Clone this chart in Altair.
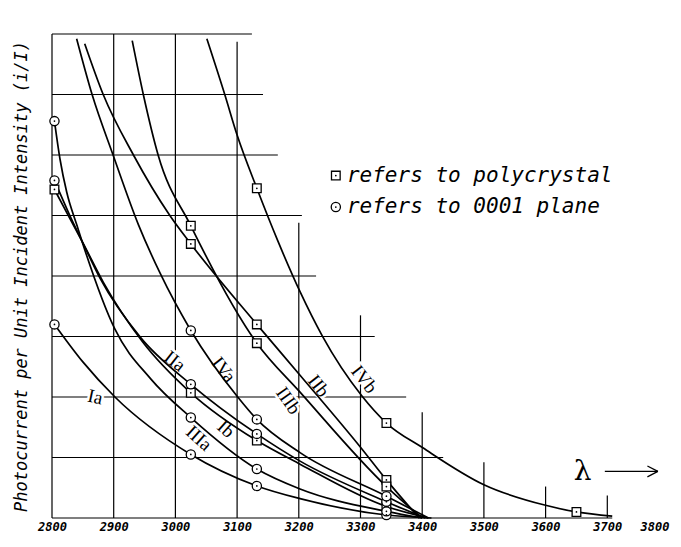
import altair as alt
import pandas as pd

# ---------------- data ----------------
X_TICKS = [2800, 2900, 3000, 3100, 3200, 3300, 3400, 3500, 3600, 3700, 3800]

# hand-drawn staircase grid (data units)
H_LEVELS = [0, 1, 2, 3, 4, 5, 6, 7, 8]
H_END = [3708, 3434, 3374, 3323, 3228, 3205, 3166, 3142, 3124]
V_LAM = [2800, 2900, 3000, 3100, 3200, 3300, 3400, 3500, 3600, 3700]
V_TOP = [8, 8, 8, 7.87, 4.88, 3.35, 1.75, 0.92, 0.52, 0.37]

# wavelengths where measured points are marked
MARKER_LAMS = [2804, 3025, 3132, 3342, 3650]

IA_LAM = [2804, 2850, 2902, 3025, 3132, 3202, 3342, 3415]
IA_VAL = [3.20, 2.58, 2.00, 1.05, 0.53, 0.32, 0.05, 0.00]

IIA_LAM = [2804, 2828, 2849, 2878, 2943, 3025, 3132, 3202, 3342, 3405]
IIA_VAL = [5.58, 5.02, 4.57, 3.96, 2.99, 2.21, 1.39, 0.94, 0.27, 0.00]

IIIA_LAM = [2804, 2813, 2824, 2840, 2850, 2902, 2960, 3025, 3132, 3202, 3342, 3400]
IIIA_VAL = [6.56, 5.93, 5.38, 4.85, 4.53, 3.12, 2.30, 1.66, 0.81, 0.48, 0.11, 0.00]

IVA_LAM = [2840, 2865, 2899, 2940, 2975, 3025, 3101, 3132, 3202, 3342, 3410]
IVA_VAL = [7.92, 7.00, 6.00, 4.85, 4.05, 3.10, 2.00, 1.63, 1.08, 0.36, 0.00]

IB_LAM = [2804, 2852, 2883, 2947, 3025, 3132, 3202, 3342, 3410]
IB_VAL = [5.43, 4.51, 3.90, 2.91, 2.07, 1.28, 0.89, 0.19, 0.00]

IIB_LAM = [2853, 2883, 2932, 2991, 3025, 3132, 3202, 3300, 3342, 3395]
IIB_VAL = [7.84, 7.00, 6.00, 5.00, 4.53, 3.20, 2.36, 1.17, 0.63, 0.00]

IIIB_LAM = [2930, 2948, 2972, 3025, 3132, 3202, 3342, 3400]
IIIB_VAL = [7.89, 7.00, 6.00, 4.83, 2.89, 2.08, 0.52, 0.00]

IVB_LAM = [3051, 3080, 3100, 3132, 3166, 3202, 3238, 3302, 3342, 3401, 3500, 3600, 3650, 3708]
IVB_VAL = [7.92, 7.00, 6.33, 5.45, 4.58, 3.74, 3.01, 2.02, 1.57, 1.16, 0.55, 0.21, 0.10, 0.03]

CURVE_NAMES = ["Ia", "IIa", "IIIa", "IVa", "Ib", "IIb", "IIIb", "IVb"]
CURVE_LAMS = [IA_LAM, IIA_LAM, IIIA_LAM, IVA_LAM, IB_LAM, IIB_LAM, IIIB_LAM, IVB_LAM]
CURVE_VALS = [IA_VAL, IIA_VAL, IIIA_VAL, IVA_VAL, IB_VAL, IIB_VAL, IIIB_VAL, IVB_VAL]

LABEL_LAM = [2870, 2999, 3038, 3078, 3082, 3232, 3183, 3306]
LABEL_VAL = [2.00, 2.59, 1.32, 2.45, 1.47, 2.18, 1.94, 2.29]
LABEL_ANGLE = [12, 38, 42, 52, 42, 52, 55, 52]

LEGEND_TEXT = ["refers to polycrystal", "refers to 0001 plane"]
LEGEND_SHAPE = ["square", "circle"]
LEGEND_VAL = [5.66, 5.14]
LEGEND_MARK_LAM = 3260
LEGEND_TEXT_LAM = 3278

Y_TITLE = "Photocurrent per Unit Incident Intensity (i/I)"

# ---------------- tables ----------------
rows = []
for name, lams, vals in zip(CURVE_NAMES, CURVE_LAMS, CURVE_VALS):
    for i, (l, v) in enumerate(zip(lams, vals)):
        rows.append({"curve": name, "lam": l, "val": v, "idx": i,
                     "shape": "circle" if name.endswith("a") else "square",
                     "marked": l in MARKER_LAMS})
curves = pd.DataFrame(rows)
markers = curves[curves["marked"]].copy()
legend_marks = pd.DataFrame({"lam": [LEGEND_MARK_LAM] * 2, "val": LEGEND_VAL, "shape": LEGEND_SHAPE})
markers = pd.concat([markers[["lam", "val", "shape"]], legend_marks], ignore_index=True)

hgrid = pd.DataFrame({"lam": [2800] * len(H_LEVELS), "lam2": H_END, "val": H_LEVELS})
vgrid = pd.DataFrame({"lam": V_LAM, "val": [0] * len(V_LAM), "val2": V_TOP})
labels = pd.DataFrame({"text": CURVE_NAMES, "lam": LABEL_LAM, "val": LABEL_VAL, "angle": LABEL_ANGLE})
legend = pd.DataFrame({"text": LEGEND_TEXT, "lam": [LEGEND_TEXT_LAM] * 2, "val": LEGEND_VAL})
lam_label = pd.DataFrame({"text": ["λ"], "lam": [3660], "val": [0.76]})
arrow = pd.DataFrame({"lam": [3696, 3765, 3765], "lam2": [3782, 3782, 3782],
                      "val": [0.77, 0.86, 0.68], "val2": [0.77, 0.77, 0.77]})

MONO = "DejaVu Sans Mono"

X = alt.X("lam:Q", scale=alt.Scale(domain=[2800, 3800], nice=False, zero=False),
          axis=alt.Axis(values=X_TICKS, format="d", title=None, grid=False, domain=False,
                        ticks=False, labelFont=MONO, labelFontSize=12, labelFontStyle="italic",
                        labelFontWeight="bold", labelColor="black", labelPadding=3,
                        labelFlush=False, labelOverlap=False,
                        labelAlign=alt.condition("datum.value >= 3800", alt.value("right"), alt.value("center"))))
Y = alt.Y("val:Q", scale=alt.Scale(domain=[0, 8], nice=False, zero=False),
          axis=alt.Axis(title=Y_TITLE, labels=False, ticks=False, domain=False, grid=False,
                        titleFont=MONO, titleFontSize=17, titleFontStyle="italic",
                        titleFontWeight="normal", titleColor="black", titlePadding=22))

hg = alt.Chart(hgrid).mark_rule(color="black", strokeWidth=1.2).encode(x=X, x2="lam2:Q", y=Y)
vg = alt.Chart(vgrid).mark_rule(color="black", strokeWidth=1.2).encode(x=X, y=Y, y2="val2:Q")

halo = alt.Chart(labels).mark_text(font="Liberation Serif", fontSize=19, stroke="white",
                                   strokeWidth=5, color="white").encode(
    x=X, y=Y, text="text:N", angle=alt.Angle("angle:Q", scale=None))

lines = alt.Chart(curves).mark_line(interpolate="monotone", color="black", strokeWidth=1.7).encode(
    x=X, y=Y, detail="curve:N", order="idx:Q")

lab = alt.Chart(labels).mark_text(font="Liberation Serif", fontSize=19, color="black").encode(
    x=X, y=Y, text="text:N", angle=alt.Angle("angle:Q", scale=None))

sq = alt.Chart(markers).transform_filter(alt.datum.shape == "square").mark_point(
    shape="square", filled=True, fill="white", stroke="black", strokeWidth=1.3, size=75, opacity=1
).encode(x=X, y=Y)
ci = alt.Chart(markers).transform_filter(alt.datum.shape == "circle").mark_point(
    shape="circle", filled=True, fill="white", stroke="black", strokeWidth=1.3, size=85, opacity=1
).encode(x=X, y=Y)
dots = alt.Chart(markers).mark_point(shape="circle", filled=True, color="black", size=3, opacity=1).encode(x=X, y=Y)

leg = alt.Chart(legend).mark_text(font=MONO, fontSize=21, fontStyle="italic", align="left",
                                  baseline="middle", color="black").encode(x=X, y=Y, text="text:N")
lam_t = alt.Chart(lam_label).mark_text(font="DejaVu Serif", fontSize=28, align="center",
                                       baseline="middle", color="black").encode(x=X, y=Y, text="text:N")
arr = alt.Chart(arrow).mark_rule(color="black", strokeWidth=1.3).encode(x=X, x2="lam2:Q", y=Y, y2="val2:Q")

chart = alt.layer(hg, vg, halo, lines, lab, sq, ci, dots, leg, lam_t, arr).properties(
    width=617, height=484,
    autosize=alt.AutoSizeParams(type="none"),
    padding={"left": 44, "top": 26, "right": 4, "bottom": 17},
    background="white",
).configure_view(stroke=None)

chart.save("out.html", embed_options={"renderer": "svg", "actions": False})
